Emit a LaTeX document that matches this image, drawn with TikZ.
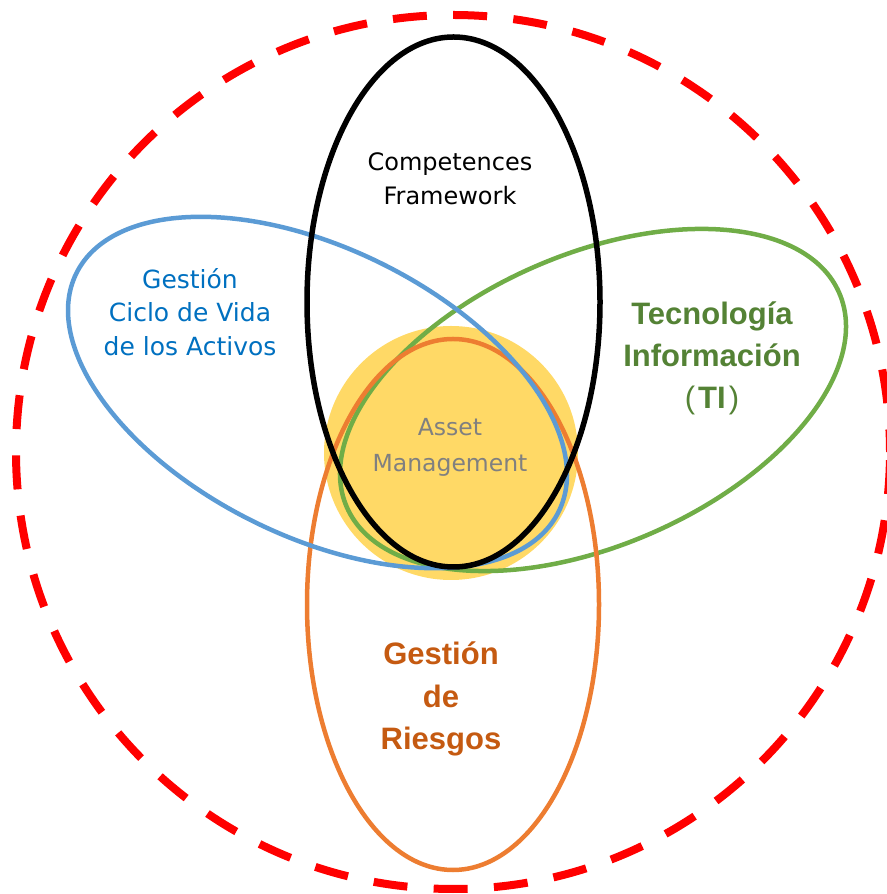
\documentclass[tikz,border=0pt]{standalone}
\usepackage{fontspec}
\setmainfont{DejaVu Sans}
\newfontfamily\boldsans{Liberation Sans}
\usepackage{tikz}
\usetikzlibrary{positioning}
\usepackage{xcolor}
\definecolor{dashred}{HTML}{FF0000}
\definecolor{lifeblue}{HTML}{5B9BD5}
\definecolor{itgreen}{HTML}{70AD47}
\definecolor{riskorange}{HTML}{ED7D31}
\definecolor{coreyellow}{HTML}{FFD966}
\definecolor{lifetext}{HTML}{0070C0}
\definecolor{ittext}{HTML}{548235}
\definecolor{risktext}{HTML}{C55A11}
\definecolor{coretext}{HTML}{808080}

\begin{document}
\begin{tikzpicture}[x=1pt, y=1pt,
  ring/.style={line width=4.5pt},
  txt/.style={align=center, inner sep=0pt}
]
\useasboundingbox (0,0) rectangle (886,894);
\fill[coreyellow] (451,441) circle[radius=127];
\draw[dashred, line width=8pt, dash pattern=on 34pt off 26.34pt, dash phase=11.34pt] (453,442) circle[radius=437];
\draw[ring, itgreen, rotate around={23.5:(593,494)}] (593,494) ellipse[x radius=268.5, y radius=145.5];
\draw[ring, riskorange] (453,289.5) ellipse[x radius=146, y radius=265.5];
\draw[ring, lifeblue, rotate around={-26.3:(317.5,501.5)}] (317.5,501.5) ellipse[x radius=269, y radius=144];
\draw[line width=5.5pt, black] (453.5,592) ellipse[x radius=146.5, y radius=265];
\node[txt, font=\fontsize{24}{34}\selectfont] (comp) at (450,715) {Competences\\Framework};
\node[txt, lifetext, font=\fontsize{25}{33.5}\selectfont] (life) at (190,582) {Gestión\\Ciclo de Vida\\de los Activos};
\node[txt, ittext, font=\boldsans\bfseries\fontsize{31}{42}\selectfont] (it) at (712,536) {Tecnología\\Información\\{\mdseries(}\kern3pt TI\kern3pt{\mdseries)}};
\node[txt, risktext, font=\boldsans\bfseries\fontsize{31}{42.5}\selectfont] (risk) at (441,195) {Gestión\\de\\Riesgos};
\node[txt, coretext, font=\fontsize{23.5}{36}\selectfont] (core) at (450,447) {Asset\\Management};
\end{tikzpicture}
\end{document}
